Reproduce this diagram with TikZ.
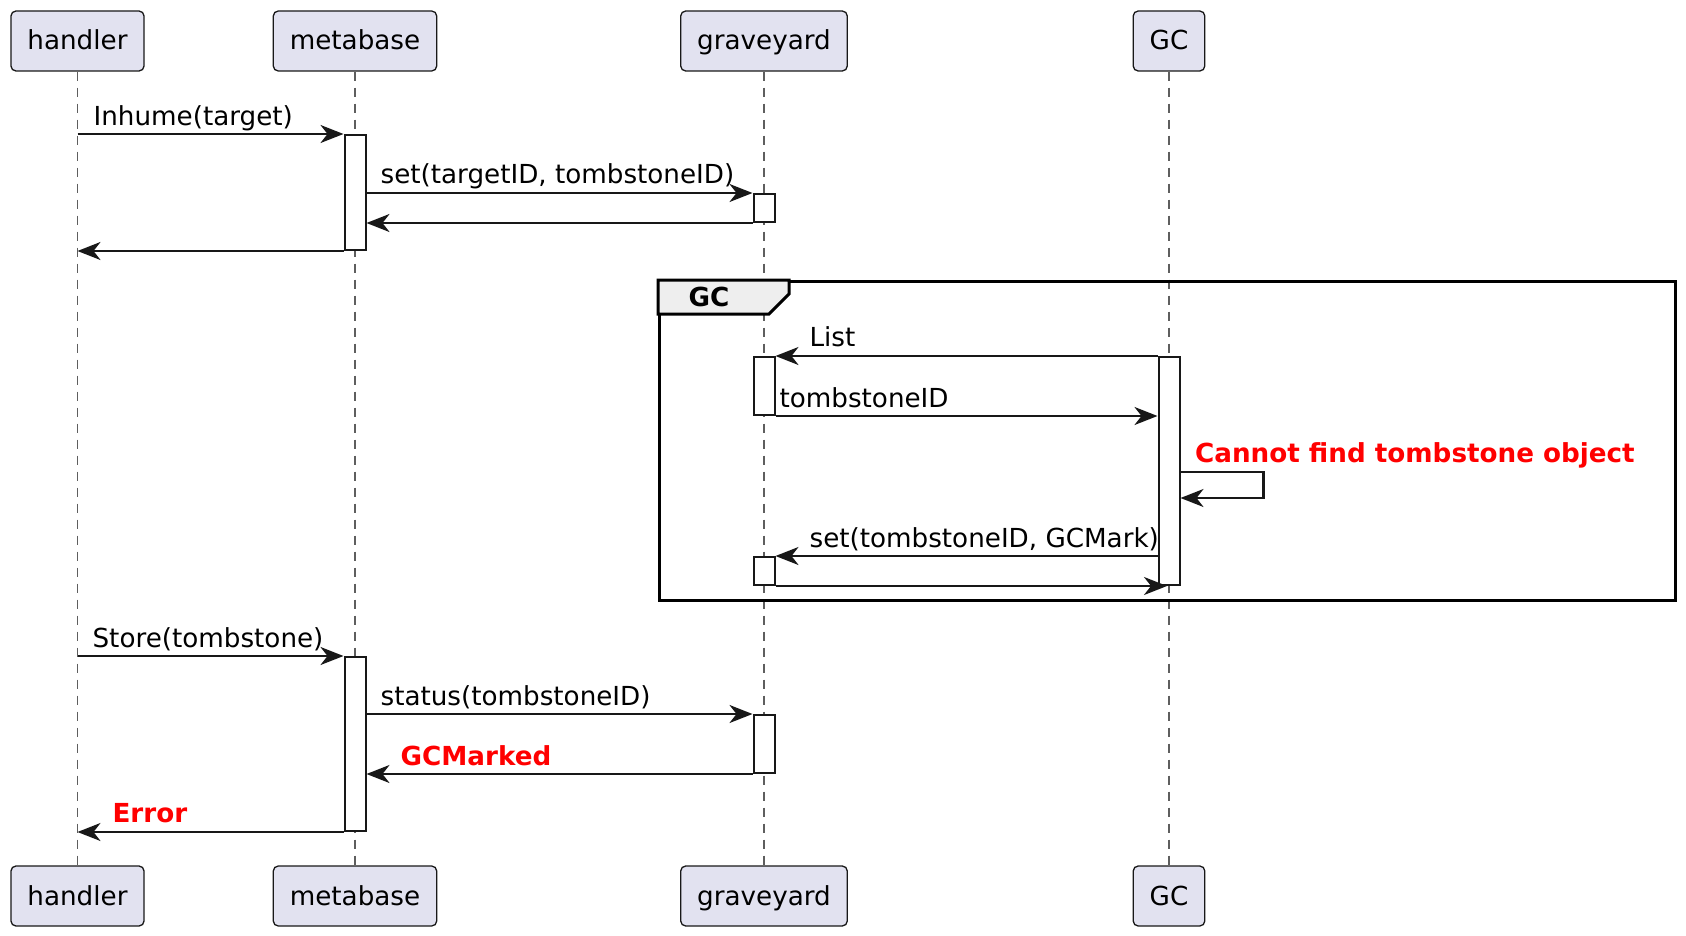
\documentclass[tikz,border=0pt]{standalone}
\usepackage{fontspec}
\setmainfont{DejaVu Sans}
\usetikzlibrary{arrows.meta,positioning}
\definecolor{partfill}{HTML}{E2E2F0}
\definecolor{partline}{HTML}{181818}
\definecolor{lifegray}{HTML}{5E5E5E}
\definecolor{tabgray}{HTML}{EEEEEE}
\definecolor{alertred}{HTML}{FF0000}

\begin{document}
\begin{tikzpicture}[x=1pt,y=-1pt,
    every node/.style={font=\fontsize{26.2}{31}\selectfont},
    part/.style={draw=partline,fill=partfill,line width=1.3pt,rounded corners=5pt,
      minimum height=60pt,inner xsep=16.5pt,text height=23.5pt,text depth=5.5pt},
    lifeline/.style={draw=lifegray,line width=1.3pt,dash pattern=on 9pt off 7pt},
    act/.style={draw=partline,fill=white,line width=2pt,minimum width=21pt,inner sep=0pt,anchor=north},
    msg/.style={draw=partline,line width=2.2pt,-{Stealth[length=23pt,width=18pt,inset=7pt]}},
    lbl/.style={anchor=base west,inner sep=0pt},
    alert/.style={lbl,text=alertred,font=\fontsize{26.2}{31}\selectfont\bfseries}]
    \useasboundingbox (0,0) rectangle (1686,936);
    % participants, top and bottom, with their lifelines
    \foreach \n/\t/\x in {h/handler/77.5, m/metabase/355, g/graveyard/764, c/GC/1169} {
      \node[part] (\n) at (\x,41) {\t};
      \node[part] (\n2) at (\x,896) {\t};
      \draw[lifeline] (\n) -- (\n2);
    }
    % GC group
    \node[draw=black,line width=3pt,minimum width=1016pt,minimum height=319pt,inner sep=0pt,anchor=north west] (gcf) at (658,280) {};
    \filldraw[draw=black,fill=tabgray,line width=3pt] (gcf.north west) -- ++(131,0) -- ++(0,14) -- ++(-20,20) -- ++(-111,0) -- cycle;
    \node[font=\fontsize{26.2}{31}\selectfont\bfseries,anchor=base] (gct) at (709,306) {GC};
    % activations
    \node[act,minimum height=115pt] (a1) at (355,134) {};
    \node[act,minimum height=28pt] (a2) at (764,193) {};
    \node[act,minimum height=228pt] (a4) at (1169,356) {};
    \node[act,minimum height=58pt] (a3) at (764,356) {};
    \node[act,minimum height=28pt] (a5) at (764,556) {};
    \node[act,minimum height=174pt] (a6) at (355,656) {};
    \node[act,minimum height=58pt] (a7) at (764,714) {};
    % messages
    \draw[msg] (h |- a1.north) -- (a1.north west)
      node[lbl,pos=0,xshift=15pt,yshift=8pt] {Inhume(target)};
    \draw[msg] (a1.east |- a2.north) -- (a2.north west)
      node[lbl,pos=0,xshift=13pt,yshift=9pt] {set(targetID, tombstoneID)};
    \draw[msg] (a2.south west) -- (a1.east |- a2.south);
    \draw[msg] (a1.south west) -- (h |- a1.south);
    \draw[msg] (a4.north west) -- (a3.north east)
      node[lbl,pos=1,xshift=33pt,yshift=10pt] {List};
    \draw[msg] (a3.south east) -- (a4.west |- a3.south)
      node[lbl,pos=0,xshift=3pt,yshift=9pt] {tombstoneID};
    \draw[msg] ([yshift=-116pt]a4.north east) -- ++(83,0)
      node[alert,pos=0,xshift=13.5pt,yshift=10pt] {Cannot find tombstone object}
      |- ([yshift=-142pt]a4.north east);
    \draw[msg] (a4.west |- a5.north) -- (a5.north east)
      node[lbl,pos=1,xshift=33pt,yshift=9pt] {set(tombstoneID, GCMark)};
    \draw[msg] (a5.south east) -- ([xshift=-2pt]c |- a5.south);
    \draw[msg] (h |- a6.north) -- (a6.north west)
      node[lbl,pos=0,xshift=14pt,yshift=9pt] {Store(tombstone)};
    \draw[msg] (a6.east |- a7.north) -- (a7.north west)
      node[lbl,pos=0,xshift=13pt,yshift=9pt] {status(tombstoneID)};
    \draw[msg] (a7.south west) -- (a6.east |- a7.south)
      node[alert,pos=1,xshift=33pt,yshift=9pt] {GCMarked};
    \draw[msg] (a6.south west) -- (h |- a6.south)
      node[alert,pos=1,xshift=34pt,yshift=10pt] {Error};
\end{tikzpicture}
\end{document}
